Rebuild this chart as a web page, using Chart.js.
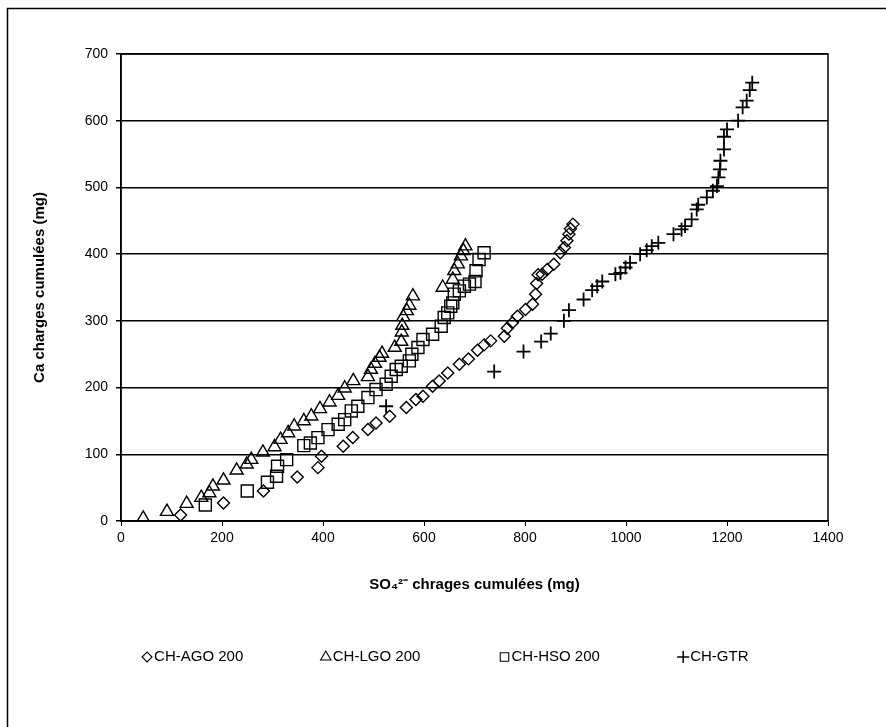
<!DOCTYPE html>
<html>
<head>
<meta charset="utf-8">
<title>Ca x SO4</title>
<script src="https://cdn.jsdelivr.net/npm/chart.js@4.4.1/dist/chart.umd.min.js"></script>
<style>
    html, body { margin: 0; padding: 0; background: #fff; }
    #caixa { width: 886px; height: 727px; position: relative; }
</style>
</head>
<body>
<div id="caixa"><canvas id="myChart"></canvas></div>
<script>
// CH-AGO 200 (losangos)
var agoX = [118, 203, 282, 349, 390, 397, 440, 459, 489, 505, 532, 565, 584, 598, 617, 630, 647, 670, 688, 706, 719, 732, 759, 765, 775, 785, 801, 815, 821, 823, 826, 834, 844, 857, 870, 878, 883, 887, 890, 895];
var agoY = [9, 27, 45, 66, 80, 97, 112, 125, 137, 147, 157, 170, 182, 187, 202, 210, 222, 235, 243, 256, 264, 270, 277, 289, 297, 307, 317, 325, 340, 356, 369, 370, 377, 385, 402, 410, 420, 430, 438, 445];

// CH-LGO 200 (triangulos)
var lgoX = [44, 91, 130, 159, 175, 182, 203, 229, 249, 258, 281, 304, 316, 331, 343, 362, 377, 394, 413, 430, 443, 460, 489, 495, 503, 512, 517, 542, 555, 556, 557, 559, 566, 571, 578, 637, 657, 660, 667, 673, 678, 682];
var lgoY = [4, 14, 26, 35, 42, 52, 61, 76, 85, 92, 103, 111, 122, 132, 142, 150, 157, 168, 178, 188, 199, 210, 216, 227, 236, 245, 251, 260, 269, 283, 293, 306, 315, 323, 337, 350, 362, 375, 385, 397, 405, 412];

// CH-HSO 200 (quadrados)
var hsoX = [167, 250, 290, 308, 310, 328, 362, 375, 390, 410, 430, 443, 456, 469, 489, 505, 525, 535, 545, 555, 571, 576, 588, 598, 617, 634, 640, 647, 653, 657, 660, 670, 680, 690, 701, 703, 709, 719];
var hsoY = [24, 45, 58, 67, 82, 92, 113, 117, 125, 137, 145, 152, 165, 172, 185, 197, 205, 217, 227, 232, 240, 250, 260, 272, 280, 292, 305, 312, 322, 327, 340, 345, 352, 355, 359, 375, 392, 402];

// CH-GTR (cruzes)
var gtrX = [525, 739, 797, 832, 851, 877, 887, 916, 933, 943, 953, 979, 989, 999, 1008, 1028, 1041, 1051, 1064, 1094, 1110, 1117, 1130, 1140, 1143, 1160, 1172, 1180, 1183, 1186, 1187, 1194, 1194, 1200, 1222, 1231, 1239, 1245, 1250];
var gtrY = [172, 224, 254, 269, 281, 300, 316, 332, 346, 352, 359, 370, 372, 380, 387, 400, 406, 412, 417, 430, 437, 442, 452, 467, 474, 485, 495, 502, 515, 527, 540, 557, 576, 587, 600, 620, 630, 646, 657];

var nomesSeries = ['CH-AGO 200', 'CH-LGO 200', 'CH-HSO 200', 'CH-GTR'];
var simbolos = ['rectRot', 'triangle', 'rect', 'cross'];
var raios = [6, 7.5, 8.5, 7];

var ticksX = [0, 200, 400, 600, 800, 1000, 1200, 1400];
var ticksY = [0, 100, 200, 300, 400, 500, 600, 700];

function juntar(xs, ys) {
    var pontos = [];
    for (let i = 0; i < xs.length; i++) {
        pontos.push({ x: xs[i], y: ys[i] });
    }
    return pontos;
}

var dadosSeries = [juntar(agoX, agoY), juntar(lgoX, lgoY), juntar(hsoX, hsoY), juntar(gtrX, gtrY)];

var fonte = "'Liberation Sans', Arial, sans-serif";

// moldura externa e borda da area do grafico
const moldura = {
    id: 'moldura',
    beforeDatasetsDraw(chart) {
        const ctx = chart.ctx;
        const a = chart.chartArea;
        ctx.save();
        ctx.strokeStyle = '#000';
        ctx.lineWidth = 1.5;
        ctx.strokeRect(a.left, a.top, a.right - a.left, a.bottom - a.top);
        ctx.strokeRect(7.5, 8.5, 900, 740);
        ctx.restore();
    }
};

// legenda embaixo, itens bem espacados como no original
const legendaBaixo = {
    id: 'legendaBaixo',
    afterDraw(chart) {
        const ctx = chart.ctx;
        const inicio = chart.width * 0.166;
        const passo = chart.width * 0.2017;
        const y = 657;
        ctx.save();
        ctx.font = '15px ' + fonte;
        ctx.textBaseline = 'middle';
        ctx.textAlign = 'left';
        chart.data.datasets.forEach(function (ds, i) {
            const x = inicio + i * passo;
            ctx.strokeStyle = '#000';
            ctx.fillStyle = 'rgba(0,0,0,0)';
            ctx.lineWidth = ds.pointStyle == 'cross' ? 1.5 : 1.1;
            Chart.helpers.drawPoint(ctx, {
                pointStyle: ds.pointStyle,
                radius: ds.pointStyle == 'rectRot' ? 5 : 6,
                rotation: 0,
                borderWidth: ctx.lineWidth
            }, x, y);
            ctx.fillStyle = '#000';
            ctx.fillText(ds.label, x + 7, y);
        });
        ctx.restore();
    }
};

const ctx1 = document.getElementById('myChart');

new Chart(ctx1, {
    type: 'scatter',
    data: {
        datasets: nomesSeries.map(function (nome, i) {
            return {
                label: nome,
                data: dadosSeries[i],
                pointStyle: simbolos[i],
                pointRadius: raios[i],
                pointHoverRadius: raios[i],
                borderColor: '#000',
                backgroundColor: 'rgba(0,0,0,0)',
                pointBorderWidth: simbolos[i] == 'cross' ? 1.8 : 1.4
            };
        })
    },
    options: {
        responsive: true,
        maintainAspectRatio: false,
        animation: false,
        layout: {
            padding: { left: 20, top: 54, right: 58, bottom: 126 }
        },
        plugins: {
            legend: { display: false },
            tooltip: { enabled: false }
        },
        scales: {
            x: {
                type: 'linear',
                min: ticksX[0],
                max: ticksX[ticksX.length - 1],
                afterBuildTicks: function (escala) {
                    escala.ticks = ticksX.map(v => ({ value: v }));
                },
                afterFit: function (escala) { escala.height = 80; },
                ticks: {
                    color: '#000',
                    font: { family: fonte, size: 14 },
                    padding: 4,
                    maxRotation: 0,
                    callback: function (valor) { return String(valor); }
                },
                grid: {
                    drawOnChartArea: false,
                    drawTicks: true,
                    tickLength: 5,
                    color: '#000',
                    lineWidth: 1
                },
                border: { color: '#000', width: 1.5 },
                title: {
                    display: true,
                    text: 'SO\u2084\u00B2\u207B chrages cumulées (mg)',
                    color: '#000',
                    font: { family: fonte, size: 15, weight: 'bold' },
                    padding: { top: 0, bottom: 7 }
                }
            },
            y: {
                min: ticksY[0],
                max: ticksY[ticksY.length - 1],
                afterBuildTicks: function (escala) {
                    escala.ticks = ticksY.map(v => ({ value: v }));
                },
                afterFit: function (escala) { escala.width = 101; },
                ticks: {
                    color: '#000',
                    font: { family: fonte, size: 14 },
                    padding: 8,
                    callback: function (valor) { return String(valor); }
                },
                grid: {
                    color: '#000',
                    lineWidth: 1.5,
                    tickLength: 5
                },
                border: { color: '#000', width: 1.5 },
                title: {
                    display: true,
                    text: 'Ca charges cumulées (mg)',
                    color: '#000',
                    font: { family: fonte, size: 15, weight: 'bold' },
                    padding: { top: 11, bottom: 0 }
                }
            }
        }
    },
    plugins: [moldura, legendaBaixo]
});
</script>
</body>
</html>
